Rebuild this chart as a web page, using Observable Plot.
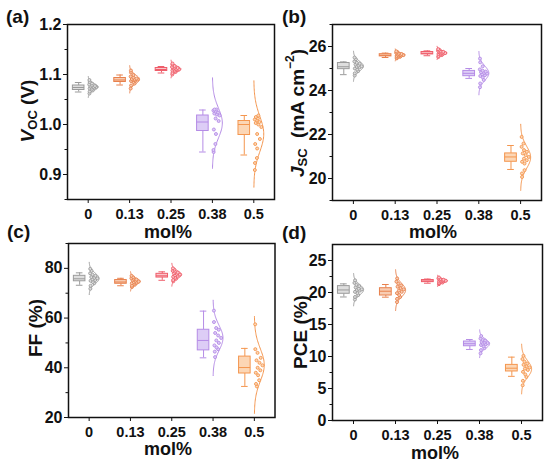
<!DOCTYPE html>
<html><head><meta charset="utf-8">
<script src="https://cdn.jsdelivr.net/npm/d3@7"></script>
<script src="https://cdn.jsdelivr.net/npm/@observablehq/plot@0.6"></script>
<style>
body{margin:0;background:#fff;}
#wrap{position:relative;width:550px;height:464px;overflow:hidden;font-family:"Liberation Sans",Arial,sans-serif;}
.panel{position:absolute;width:275px;height:232px;}
.panel svg{overflow:visible;}
</style></head><body><div id="wrap"></div>
<script>
const categories = ["0","0.13","0.25","0.38","0.5"];
const colors = ["#9b9b9b","#e8814d","#ef5d6a","#b58ce6","#f4964f"];
const fills = ["#dedede","#f8cdb3","#fac6cb","#ddcdf6","#fcd6b5"];

// box stats: [lower whisker, Q1, median, Q3, upper whisker]
const vocBoxes = [[1.065,1.069,1.074,1.078,1.084],[1.079,1.085,1.089,1.093,1.099],[1.103,1.107,1.110,1.113,1.116],[0.945,0.987,1.005,1.018,1.029],[0.939,0.979,1.000,1.007,1.018]];
const vocPoints = [
 [1.062,1.066,1.068,1.070,1.072,1.073,1.074,1.075,1.075,1.076,1.077,1.078,1.080,1.082,1.085,1.089],
 [1.072,1.078,1.082,1.085,1.087,1.088,1.089,1.090,1.090,1.091,1.092,1.094,1.096,1.099,1.104,1.108],
 [1.100,1.103,1.105,1.107,1.108,1.109,1.110,1.110,1.111,1.112,1.113,1.114,1.115,1.117,1.120,1.122],
 [0.945,0.949,0.961,0.981,0.990,1.007,1.012,1.018,1.020,1.022,1.024,1.026,1.028,1.030,1.030],
 [0.909,0.923,0.933,0.952,0.961,0.971,0.981,0.995,1.000,1.003,1.005,1.008,1.010,1.012,1.015,1.018]];
const jscBoxes = [[24.72,24.97,25.08,25.25,25.30],[25.50,25.55,25.60,25.65,25.70],[25.58,25.64,25.69,25.75,25.80],[24.55,24.65,24.78,24.89,25.00],[20.41,20.76,20.98,21.14,21.50]];
const jscPoints = [
 [24.68,24.78,24.88,24.95,25.00,25.05,25.08,25.10,25.14,25.18,25.22,25.26,25.32,25.42,25.50],
 [25.46,25.50,25.53,25.55,25.57,25.59,25.60,25.61,25.62,25.64,25.66,25.68,25.71,25.75,25.78],
 [25.52,25.57,25.61,25.64,25.66,25.68,25.69,25.70,25.72,25.74,25.76,25.78,25.81,25.85,25.88],
 [24.15,24.32,24.48,24.60,24.66,24.70,24.74,24.77,24.80,24.83,24.86,24.90,24.96,25.10,25.28,25.45],
 [20.07,20.23,20.38,20.68,20.76,20.83,20.90,20.98,21.06,21.14,21.21,21.29,21.44,21.59,21.89]];
const ffBoxes = [[73.2,74.8,75.8,77.0,78.2],[73.0,73.8,74.5,75.3,76.0],[75.2,76.3,77.0,77.8,78.6],[44.0,47.0,51.0,55.3,62.8],[32.5,37.7,40.1,44.5,47.8]];
const ffPoints = [
 [71.8,73.0,74.0,74.5,75.0,75.3,75.6,76.0,76.2,76.5,77.0,77.5,78.0,79.0,79.8],
 [72.5,73.0,73.4,73.8,74.0,74.3,74.5,74.7,75.0,75.2,75.5,75.8,76.0,76.4,77.0],
 [74.8,75.3,75.8,76.2,76.6,77.0,77.2,77.5,77.8,78.0,78.3,78.7,79.0,79.5,80.0],
 [44.3,46.5,47.5,48.2,49.0,50.0,51.0,52.0,53.0,54.0,55.3,56.0,58.4,63.0],
 [32.5,33.5,35.0,37.0,38.0,39.0,40.0,41.0,42.0,43.0,44.0,46.0,47.5,57.5]];
const pceBoxes = [[19.3,19.8,20.4,21.0,21.35],[19.27,19.53,20.2,20.67,21.25],[21.45,21.62,21.8,21.95,22.1],[11.1,11.6,12.0,12.34,12.65],[6.9,7.66,8.17,8.69,9.9]];
const pcePoints = [
 [18.9,19.3,19.6,19.9,20.1,20.3,20.4,20.5,20.6,20.8,21.0,21.2,21.5,21.9],
 [18.5,19.0,19.3,19.6,19.9,20.1,20.3,20.5,20.7,20.9,21.1,21.4,21.7,22.2],
 [21.3,21.45,21.55,21.62,21.7,21.75,21.8,21.85,21.9,21.95,22.0,22.1,22.2,22.35],
 [10.5,11.0,11.3,11.6,11.8,11.9,12.0,12.1,12.2,12.3,12.5,12.6,12.8,13.2],
 [5.5,6.2,6.8,7.2,7.6,7.9,8.1,8.3,8.5,8.7,8.9,9.2,9.6,10.1]];

const vocTicks = [0.9,1.0,1.1,1.2], vocMinor = [0.85,0.95,1.05,1.15];
const jscTicks = [20,22,24,26], jscMinor = [19,21,23,25,27];
const ffTicks = [20,40,60,80], ffMinor = [30,50,70,90];
const pceTicks = [0,5,10,15,20,25], pceMinor = [2.5,7.5,12.5,17.5,22.5];

const panels = [
 {tag:"(a)", left:0, top:0, m:[24,1,33,67], dom:[0.85,1.2], ticks:vocTicks, minor:vocMinor, fmt:d3.format(".1f"), boxes:vocBoxes, points:vocPoints,
  ylab:[["V","i"],["OC","sub"],[" (V)",""]], ylx:27, yly:111, tagx:6, tagy:23, xlx:168, xly:238},
 {tag:"(b)", left:275, top:0, m:[24,9,32,57], dom:[19,27], ticks:jscTicks, minor:jscMinor, fmt:d3.format("d"), boxes:jscBoxes, points:jscPoints,
  ylab:[["J","i"],["SC","sub"],["  (mA cm",""],["−2","sup"],[")",""]], ylx:22, yly:113, tagx:7, tagy:23, xlx:158, xly:238},
 {tag:"(c)", left:0, top:232, m:[11,0.5,47,68], dom:[20,90], ticks:ffTicks, minor:ffMinor, fmt:d3.format("d"), boxes:ffBoxes, points:ffPoints,
  ylab:[["FF (%)",""]], ylx:35, yly:96, tagx:7, tagy:6, xlx:168, xly:223},
 {tag:"(d)", left:275, top:232, m:[12,8,44,57], dom:[0,27.5], ticks:pceTicks, minor:pceMinor, fmt:d3.format("d"), boxes:pceBoxes, points:pcePoints,
  ylab:[["PCE (%)",""]], ylx:25, yly:100, tagx:7, tagy:7, xlx:160, xly:227}
];

const wrap = document.getElementById("wrap");
const FONT = "Liberation Sans, Arial, Helvetica, sans-serif";

for (const cfg of panels) {
  const boxRows = cfg.boxes.map((b,i)=>({i, wlo:b[0], q1:b[1], med:b[2], q3:b[3], whi:b[4]}));
  const dotRows = [], curveRows = [];
  cfg.points.forEach((p,i)=>{
    const m = d3.mean(p), s = d3.deviation(p);
    const w = y => 0.24*Math.exp(-0.5*((y-m)/s)**2);
    for (let k=0;k<=80;k++){ const y = m-3*s + k*(6*s/80); curveRows.push({i, x:i+w(y), y}); }
    p.forEach((v,k)=>{ const f=((k+1)*0.618034)%1; dotRows.push({i, x:i+0.02+f*0.85*Math.max(0,w(v)-0.02), y:v}); });
  });
  const svg = Plot.plot({
    width:275, height:232,
    marginTop:cfg.m[0], marginRight:cfg.m[1], marginBottom:cfg.m[2], marginLeft:cfg.m[3],
    style:{background:"transparent", overflow:"visible", fontFamily:FONT, fontWeight:"bold", color:"#111"},
    x:{type:"linear", domain:[-0.5,4.5]},
    y:{domain:cfg.dom},
    color:{type:"identity"},
    marks:[
      Plot.line(curveRows,{x:"x", y:"y", z:"i", stroke:d=>colors[d.i], strokeWidth:1}),
      Plot.ruleX(boxRows,{x:d=>d.i-0.23, y1:"wlo", y2:"q1", stroke:d=>colors[d.i], strokeWidth:1}),
      Plot.ruleX(boxRows,{x:d=>d.i-0.23, y1:"q3", y2:"whi", stroke:d=>colors[d.i], strokeWidth:1}),
      Plot.ruleY(boxRows,{y:"wlo", x1:d=>d.i-0.31, x2:d=>d.i-0.15, stroke:d=>colors[d.i], strokeWidth:1}),
      Plot.ruleY(boxRows,{y:"whi", x1:d=>d.i-0.31, x2:d=>d.i-0.15, stroke:d=>colors[d.i], strokeWidth:1}),
      Plot.rect(boxRows,{x1:d=>d.i-0.37, x2:d=>d.i-0.09, y1:"q1", y2:"q3", fill:d=>fills[d.i], stroke:d=>colors[d.i], strokeWidth:1}),
      Plot.ruleY(boxRows,{y:"med", x1:d=>d.i-0.37, x2:d=>d.i-0.09, stroke:d=>colors[d.i], strokeWidth:1}),
      Plot.dot(dotRows,{x:"x", y:"y", r:1.5, fill:d=>fills[d.i], stroke:d=>colors[d.i], strokeWidth:0.9}),
      Plot.frame({stroke:"#111", strokeWidth:1.5}),
      Plot.axisX({ticks:[0,1,2,3,4], tickFormat:i=>categories[i], tickSize:4, tickPadding:5, fontSize:14.5, fontWeight:"bold", label:null, stroke:"#111"}),
      Plot.axisY({ticks:cfg.ticks, tickFormat:cfg.fmt, tickSize:4, tickPadding:2, fontSize:16, fontWeight:"bold", label:null, stroke:"#111"}),
      Plot.axisY({ticks:cfg.minor, tickFormat:()=>"", tickSize:2.5, label:null, stroke:"#111"})
    ]
  });
  const div = document.createElement("div");
  div.className = "panel";
  div.style.left = cfg.left + "px";
  div.style.top = cfg.top + "px";
  div.appendChild(svg);
  wrap.appendChild(div);

  const s = d3.select(svg);
  s.append("text").attr("x", cfg.tagx).attr("y", cfg.tagy).attr("text-anchor","start")
   .attr("font-size", 19).attr("font-weight","bold").attr("fill","#111").attr("font-family",FONT).text(cfg.tag);
  s.append("text").attr("x", cfg.xlx).attr("y", cfg.xly).attr("text-anchor","middle")
   .attr("font-size", 18).attr("font-weight","bold").attr("fill","#111").attr("font-family",FONT).text("mol%");
  const t = s.append("text").attr("transform",`translate(${cfg.ylx},${cfg.yly}) rotate(-90)`)
   .attr("text-anchor","middle").attr("dominant-baseline","central")
   .attr("font-size", 19).attr("font-weight","bold").attr("fill","#111").attr("font-family",FONT);
  let shift = 0;
  for (const [txt, kind] of cfg.ylab) {
    const sp = t.append("tspan").text(txt);
    let target = 0;
    if (kind === "i") sp.attr("font-style","italic");
    if (kind === "sub") { sp.attr("font-size", 13); target = 5; }
    if (kind === "sup") { sp.attr("font-size", 12); target = -7; }
    sp.attr("dy", target - shift);
    shift = target;
  }
}
</script></body></html>
